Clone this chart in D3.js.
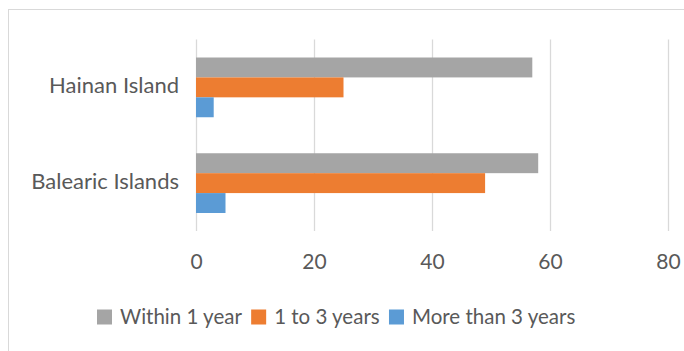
<!DOCTYPE html>
<html>
<head>
<meta charset="utf-8">
<script src="https://cdn.jsdelivr.net/npm/d3@7"></script>
<style>
  html, body { margin: 0; padding: 0; background: #fff; }
  svg { display: block; }
  text { font-family: Lato, "Noto Sans", sans-serif; fill: #595959; }
</style>
</head>
<body>
<svg id="chart" width="684" height="351"></svg>
<script>
// Survey categories and per-series values (share of respondents)
const categories = ["Hainan Island", "Balearic Islands"];
const seriesNames = ["Within 1 year", "1 to 3 years", "More than 3 years"];
const withinOneYear = [57, 58];
const oneToThreeYears = [25, 49];
const moreThanThreeYears = [3, 5];
const xTicks = [0, 20, 40, 60, 80];
const colors = ["#A5A5A5", "#ED7D31", "#5B9BD5"];

const seriesValues = [withinOneYear, oneToThreeYears, moreThanThreeYears];

const svg = d3.select("#chart");

// chart area frame (runs off the right and bottom edges)
svg.append("rect")
  .attr("x", 8.5).attr("y", 9.5)
  .attr("width", 700).attr("height", 400)
  .attr("fill", "#fff").attr("stroke", "#D9D9D9").attr("stroke-width", 1);

const plot = { left: 196, right: 668, top: 39.5, bottom: 231 };

const x = d3.scaleLinear().domain([0, 80]).range([plot.left, plot.right]);
const y = d3.scaleBand().domain(categories).range([plot.top, plot.bottom])
  .paddingInner(0.376).paddingOuter(0.188);
const ySub = d3.scaleBand().domain(seriesNames).range([0, y.bandwidth()]);

// vertical gridlines
svg.append("g").selectAll("line").data(xTicks).join("line")
  .attr("x1", d => Math.round(x(d)) + 0.5).attr("x2", d => Math.round(x(d)) + 0.5)
  .attr("y1", plot.top).attr("y2", plot.bottom)
  .attr("stroke", "#D9D9D9").attr("stroke-width", 1.3);

// bars
const rows = [];
categories.forEach((c, ci) => {
  seriesNames.forEach((s, si) => rows.push({ cat: c, series: s, value: seriesValues[si][ci], color: colors[si] }));
});
svg.append("g").selectAll("rect").data(rows).join("rect")
  .attr("x", x(0))
  .attr("y", d => y(d.cat) + ySub(d.series))
  .attr("width", d => x(d.value) - x(0))
  .attr("height", ySub.bandwidth())
  .attr("fill", d => d.color);

// x axis labels
const xAxis = d3.axisBottom(x).tickValues(xTicks).tickSize(0).tickPadding(0).tickFormat(d3.format("d"));
const gx = svg.append("g").attr("transform", `translate(0, 261.5)`).call(xAxis);
gx.select(".domain").remove();
gx.selectAll("text").attr("dy", "0.35em").attr("y", 0)
  .style("font-family", "Lato, 'Noto Sans', sans-serif").style("font-size", "21px").style("fill", "#595959");

// category labels
const yAxis = d3.axisLeft(y).tickSize(0).tickPadding(0);
const gy = svg.append("g").attr("transform", `translate(179, -1)`).call(yAxis);
gy.select(".domain").remove();
gy.selectAll("text")
  .style("font-family", "Lato, 'Noto Sans', sans-serif").style("font-size", "22px").style("fill", "#595959");

// legend
const legend = svg.append("g").attr("transform", "translate(97, 317)");
let lx = 0;
seriesNames.forEach((name, i) => {
  const g = legend.append("g").attr("transform", `translate(${lx},0)`);
  g.append("rect").attr("x", 0).attr("y", -7.5).attr("width", 15).attr("height", 15).attr("fill", colors[i]);
  const t = g.append("text").attr("x", 23).attr("y", 0).attr("dy", "0.35em")
    .style("font-size", "20.5px").text(name);
  lx += 23 + t.node().getComputedTextLength() + 9.3;
});
</script>
</body>
</html>
